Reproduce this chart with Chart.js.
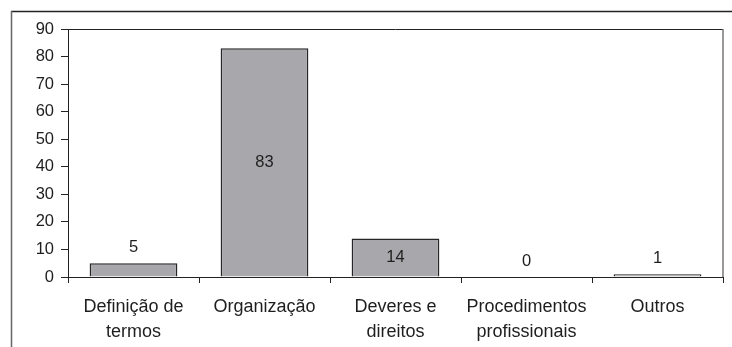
<!DOCTYPE html>
<html>
<head>
<meta charset="utf-8">
<script src="https://cdn.jsdelivr.net/npm/chart.js@4/dist/chart.umd.min.js"></script>
<style>
  html, body { margin: 0; padding: 0; background: #fff; }
  canvas { display: block; }
</style>
</head>
<body>
<canvas id="chart" width="732" height="347"></canvas>
<script>
// Categories (multi-line labels) and counts
const categories = [
  ["Definição de", "termos"],
  ["Organização"],
  ["Deveres e", "direitos"],
  ["Procedimentos", "profissionais"],
  ["Outros"]
];
const counts = [5, 83, 14, 0, 1];
const yTicks = [0, 10, 20, 30, 40, 50, 60, 70, 80, 90];

const FONT = "'Liberation Sans', Arial, sans-serif";
const TEXT = "#1e1e1e";

// Outer page frame plus top/right edges of the plot box
const framePlugin = {
  id: 'frame',
  afterDraw(chart) {
    const { ctx, chartArea: a } = chart;
    ctx.save();
    ctx.lineWidth = 1.5;
    ctx.strokeStyle = '#222';
    ctx.beginPath();
    ctx.moveTo(11, 11.5);
    ctx.lineTo(chart.width, 11.5);
    ctx.stroke();
    ctx.strokeStyle = '#666';
    ctx.beginPath();
    ctx.moveTo(11.5, 11);
    ctx.lineTo(11.5, chart.height);
    ctx.stroke();
    ctx.lineWidth = 1;
    ctx.strokeStyle = '#222';
    ctx.beginPath();
    ctx.moveTo(a.left, a.top + 0.5);
    ctx.lineTo(a.right, a.top + 0.5);
    ctx.stroke();
    ctx.strokeStyle = '#777';
    ctx.lineWidth = 1.5;
    ctx.beginPath();
    ctx.moveTo(a.right, a.top);
    ctx.lineTo(a.right, a.bottom);
    ctx.stroke();
    ctx.restore();
  }
};

// Value labels: centred inside tall bars, above short ones
const valueLabels = {
  id: 'valueLabels',
  afterDatasetsDraw(chart) {
    const { ctx } = chart;
    const meta = chart.getDatasetMeta(0);
    ctx.save();
    ctx.font = '16.5px ' + FONT;
    ctx.fillStyle = TEXT;
    ctx.textAlign = 'center';
    ctx.textBaseline = 'middle';
    meta.data.forEach((bar, i) => {
      const v = counts[i];
      const y = v >= 10 ? (bar.y + bar.base) / 2 : bar.y - 16;
      ctx.fillText(String(v), bar.x, y);
    });
    ctx.restore();
  }
};

new Chart(document.getElementById('chart'), {
  type: 'bar',
  data: {
    labels: categories,
    datasets: [{
      data: counts,
      backgroundColor: '#a8a8ac',
      borderColor: '#262626',
      borderWidth: c => (c.raw === 0 ? 0 : 1.5),
      borderSkipped: 'bottom',
      categoryPercentage: 1,
      barPercentage: 0.67
    }]
  },
  options: {
    responsive: false,
    animation: false,
    devicePixelRatio: 1,
    layout: { padding: { top: 29, right: 9, left: 0, bottom: 0 } },
    plugins: { legend: { display: false }, tooltip: { enabled: false } },
    scales: {
      x: {
        offset: true,
        grid: {
          offset: true,
          drawOnChartArea: false,
          drawTicks: true,
          tickLength: 6,
          color: '#222'
        },
        border: { display: true, color: '#222', width: 1 },
        ticks: {
          color: TEXT,
          font: { family: FONT, size: 18, lineHeight: 1.38 },
          padding: 12,
          maxRotation: 0,
          autoSkip: false
        },
        afterFit(scale) { scale.height = 70; }
      },
      y: {
        min: 0,
        max: 90,
        afterBuildTicks(scale) { scale.ticks = yTicks.map(v => ({ value: v })); },
        grid: {
          drawOnChartArea: false,
          drawTicks: true,
          tickLength: 7,
          color: '#222'
        },
        border: { display: true, color: '#222', width: 1 },
        ticks: {
          color: TEXT,
          font: { family: FONT, size: 16.5 },
          padding: 7
        },
        afterFit(scale) { scale.width = 68; }
      }
    }
  },
  plugins: [framePlugin, valueLabels]
});
</script>
</body>
</html>
